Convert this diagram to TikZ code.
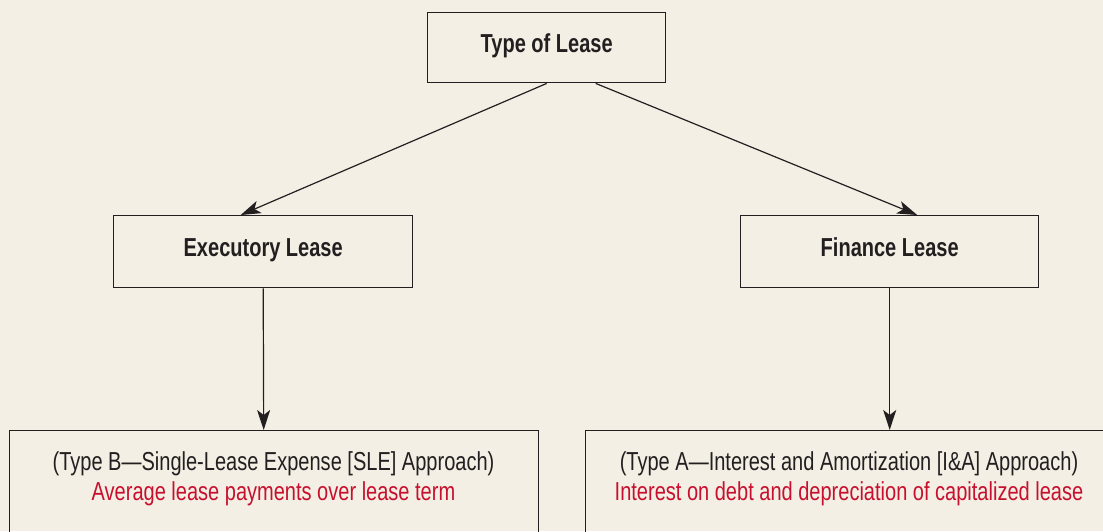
\documentclass[tikz,border=0pt]{standalone}
\usepackage{fontspec}
\usetikzlibrary{arrows.meta,calc}
\newfontfamily\condfont{Liberation Sans}[FakeStretch=0.77,Ligatures=TeX]
\definecolor{paper}{HTML}{F3EFE4}
\definecolor{ink}{HTML}{231F20}
\definecolor{accent}{HTML}{C8102E}
\begin{document}
\begin{tikzpicture}[x=1pt,y=-1pt,
  box/.style={draw=ink,line width=1.4pt,rectangle,inner sep=0pt,anchor=north west},
  title/.style={font=\condfont\fontsize{26}{30}\selectfont\bfseries,text=ink,inner sep=0pt,anchor=base},
  body/.style={font=\condfont\fontsize{26}{30}\selectfont,inner sep=0pt,anchor=base},
  link/.style={draw=ink,line width=1.2pt,-{Stealth[length=20pt,width=13pt,inset=5pt]}}]
  % page
  \fill[paper] (0,0) rectangle (1103,531);
  \useasboundingbox (0,0) rectangle (1103,531);
  % boxes
  \node[box,minimum width=238pt,minimum height=70pt] (top) at (427,12) {};
  \node[box,minimum width=299pt,minimum height=72pt] (exe) at (113,215) {};
  \node[box,minimum width=298pt,minimum height=72pt] (fin) at (740,215) {};
  \node[box,minimum width=529pt,minimum height=130pt] (typeb) at (9,430) {};
  \node[box,minimum width=528pt,minimum height=130pt] (typea) at (585,430) {};
  % headings, baselines a little below each box centre
  \node[title] (toptxt) at ([yshift=-5pt]top.center) {Type of Lease};
  \node[title] (exetxt) at ([yshift=-5pt]exe.center) {Executory Lease};
  \node[title] (fintxt) at ([yshift=-5pt]fin.center) {Finance Lease};
  % descriptions
  \node[body,text=ink] (bl1) at (273.5,470) {(Type B—Single-Lease Expense [SLE] Approach)};
  \node[body,text=accent] (bl2) at (273.5,500) {Average lease payments over lease term};
  \node[body,text=ink] (al1) at (849,470) {(Type A—Interest and Amortization [I\&A] Approach)};
  \node[body,text=accent] (al2) at (849,500) {Interest on debt and depreciation of capitalized lease};
  % connectors
  \draw[link] (top.south) -- ([xshift=-22.5pt]exe.north);
  \draw[link] ([xshift=49pt]top.south) -- ([xshift=27.5pt]fin.north);
  \draw[link] (exe.south) -- ([xshift=-10.5pt]typeb.north);
  \draw[link] (fin.south) -- ([xshift=40pt]typea.north);
\end{tikzpicture}
\end{document}
